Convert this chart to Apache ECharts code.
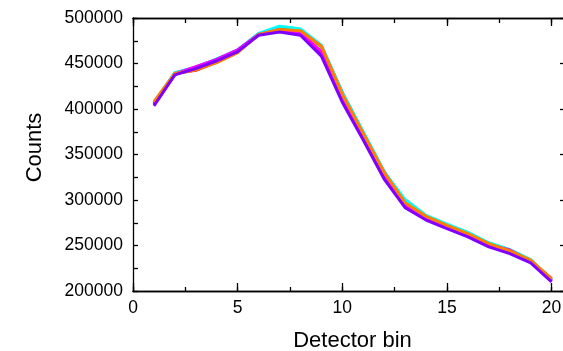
<!DOCTYPE html>
<html>
<head>
<meta charset="utf-8">
<script src="https://cdn.jsdelivr.net/npm/echarts@6/dist/echarts.min.js"></script>
<style>html,body{margin:0;padding:0;background:#fff;}#c{width:563px;height:351px;}</style>
</head>
<body>
<div id="c"></div>
<script>
var bins = [1,2,3,4,5,6,7,8,9,10,11,12,13,14,15,16,17,18,19,20];
var xTicks = [0,5,10,15,20];
var yTicks = [200000,250000,300000,350000,400000,450000,500000];
var seriesNames = ['red','yellow','green','cyan','blue','magenta','orange','purple'];
var seriesColors = ['#ff0000','#ffff00','#00a050','#00ffff','#0000ff','#ff00ff','#ff8000','#8000ff'];
var red     = [407000,439000,442500,451500,462500,482000,488000,487000,469500,418000,374000,331000,298000,281500,271500,263000,251500,244500,233500,213500];
var yellow  = [406500,439000,443500,452000,463000,482000,488500,486500,467500,415000,371000,328000,297500,281000,271000,262500,251500,244000,233000,212000];
var green   = [406000,439500,445500,454500,464500,482500,490000,487500,468500,416000,372000,329000,299000,282500,272500,264000,252500,245000,234000,212000];
var cyan    = [407000,440000,446000,455000,465000,483000,491000,488000,470000,418000,375000,331000,300500,283000,273500,264500,253000,245500,234500,212500];
var blue    = [405000,438000,445000,454000,464500,481500,486000,483000,461000,410000,368000,325000,293500,279500,269500,260500,249500,242500,232000,211000];
var magenta = [405500,438500,446500,454500,465000,482000,487000,484000,463000,412000,369000,326000,295000,280000,270000,261500,250500,245000,232500,211500];
var orange  = [408000,439000,443000,451000,462000,482000,487500,486000,469000,416000,373000,330000,297000,282000,272000,263000,252000,244000,234000,213000];
var purple  = [403500,437500,444500,453000,463000,481000,484500,481000,458000,407500,366000,323000,291500,278000,268500,259500,248500,241000,231000,210000];
var allValues = [red,yellow,green,cyan,blue,magenta,orange,purple];

var XMAX = 20.64;
var FONT = '"Liberation Sans", Arial, sans-serif';
var lineStyle = {color:'#000', width:1.3};

function xAx(pos, interval, tickLen, showLabels, showName){
  var a = {
    type:'value', position:pos, min:0, max:XMAX, interval:interval,
    axisLine:{show:true, onZero:false, lineStyle:lineStyle},
    axisTick:{show:true, inside:true, length:tickLen, lineStyle:lineStyle},
    splitLine:{show:false},
    axisLabel:{show:showLabels, margin:8, fontSize:17.5, fontFamily:FONT, color:'#000',
      showMaxLabel:false,
      formatter:function(v){ return xTicks.indexOf(v) >= 0 ? String(v) : ''; }}
  };
  if (showName){
    a.name = 'Detector bin'; a.nameLocation='middle'; a.nameGap=39;
    a.nameTextStyle = {fontSize:22, fontFamily:FONT, color:'#000', padding:[0,0,0,7]};
  }
  return a;
}

var series = seriesNames.map(function(n,i){
  return {
    name:n, type:'line', xAxisIndex:0, yAxisIndex:0,
    data: bins.map(function(b,j){ return [b, allValues[i][j]]; }),
    showSymbol:false, symbol:'none', smooth:false,
    lineStyle:{color:seriesColors[i], width:3}, itemStyle:{color:seriesColors[i]},
    animation:false, z:2+i
  };
});

var chart = echarts.init(document.getElementById('c'), null, {renderer:'canvas'});
chart.setOption({
  backgroundColor:'#fff',
  animation:false,
  grid:{left:133, top:18, width:432, height:273, containLabel:false, outerBoundsMode:'none'},
  xAxis:[
    xAx('bottom', 5, 8, true, true),
    xAx('bottom', 2.5, 4, false, false),
    xAx('top', 5, 8, false, false),
    xAx('top', 2.5, 5, false, false)
  ],
  yAxis:[
    {type:'value', position:'left', min:200000, max:500000, interval:25000,
     axisLine:{show:true, onZero:false, lineStyle:lineStyle},
     axisTick:{show:true, inside:true, length:5, lineStyle:lineStyle},
     splitLine:{show:false},
     axisLabel:{margin:10, fontSize:17.5, fontFamily:FONT, color:'#000',
       formatter:function(v){ return yTicks.indexOf(v) >= 0 ? String(v) : ''; }},
     name:'Counts', nameLocation:'middle', nameGap:87, nameRotate:90,
     nameTextStyle:{fontSize:22, fontFamily:FONT, color:'#000', padding:[0,0,0,14]}},
    {type:'value', position:'right', min:200000, max:500000, interval:50000,
     axisLine:{show:true, onZero:false, lineStyle:lineStyle},
     axisTick:{show:true, inside:true, length:5, lineStyle:lineStyle},
     splitLine:{show:false}, axisLabel:{show:false}}
  ],
  series: series
});
</script>
</body>
</html>
